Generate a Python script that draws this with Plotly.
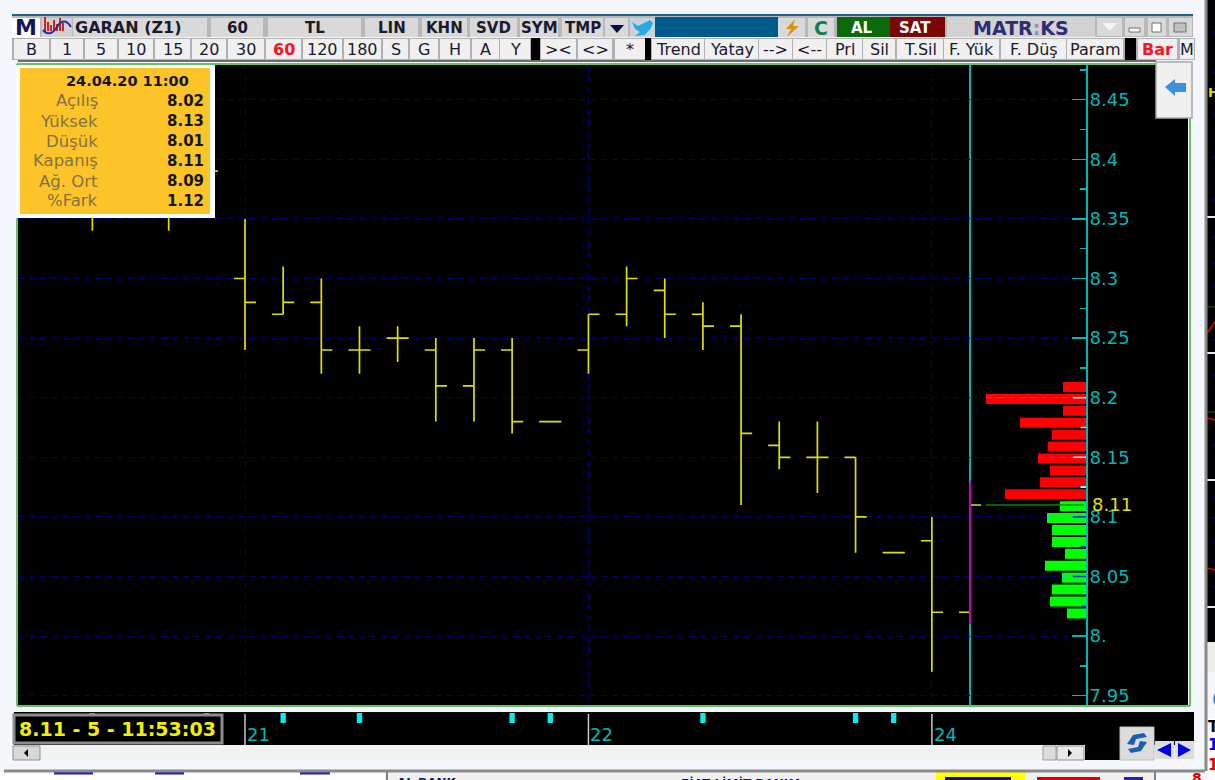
import plotly.graph_objects as go

W, H = 1215, 780

# ---------- data ----------
bar_index = [-4, -2, -1, 0, 1, 2, 3, 4, 5, 6, 7, 8, 9, 10, 11, 12, 13, 14, 15, 16, 17, 18, 19]
opens  = [8.37, 8.38, 8.40, 8.30, 8.27, 8.28, 8.24, 8.25, 8.24, 8.21, 8.24, 8.18, 8.24, 8.27, 8.29, 8.27, 8.26, 8.16, 8.15, 8.15, 8.07, 8.08, 8.02]
highs  = [8.41, 8.40, 8.41, 8.35, 8.31, 8.30, 8.26, 8.26, 8.25, 8.25, 8.25, 8.18, 8.27, 8.31, 8.30, 8.28, 8.27, 8.18, 8.18, 8.15, 8.07, 8.10, 8.13]
lows   = [8.34, 8.34, 8.38, 8.24, 8.27, 8.22, 8.22, 8.23, 8.18, 8.18, 8.17, 8.18, 8.22, 8.26, 8.25, 8.24, 8.11, 8.14, 8.12, 8.07, 8.07, 7.97, 8.01]
closes = [8.38, 8.37, 8.39, 8.28, 8.28, 8.24, 8.24, 8.25, 8.21, 8.24, 8.18, 8.18, 8.27, 8.30, 8.27, 8.26, 8.17, 8.15, 8.15, 8.10, 8.07, 8.02, 8.11]

red_levels = [8.21, 8.20, 8.19, 8.18, 8.17, 8.16, 8.15, 8.14, 8.13, 8.12]
red_volume = [23, 100, 23, 66, 34, 38, 48, 36, 46, 81]
green_levels = [8.11, 8.10, 8.09, 8.08, 8.07, 8.06, 8.05, 8.04, 8.03, 8.02]
green_volume = [26, 39, 34, 34, 21, 41, 24, 34, 36, 19]
last_price = 8.11
last_volume = 100

price_ticks = [7.95, 8.0, 8.05, 8.1, 8.15, 8.2, 8.25, 8.3, 8.35, 8.4, 8.45]
price_labels = ["7.95", "8.", "8.05", "8.1", "8.15", "8.2", "8.25", "8.3", "8.35", "8.4", "8.45"]
day_index = [0, 9, 18]
day_labels = ["21", "22", "24"]
session_marks = [-4, -1, 1, 3, 7, 8, 12, 16, 17]

info_labels = ["Açılış", "Yüksek", "Düşük", "Kapanış", "Ağ. Ort", "%Fark"]
info_values = ["8.02", "8.13", "8.01", "8.11", "8.09", "1.12"]

row1 = [("60", 211, 263), ("TL", 268, 361), ("LIN", 365, 418), ("KHN", 422, 467),
        ("SVD", 470, 517), ("SYM", 520, 558), ("TMP", 562, 603)]
row2 = [("B", 14, 49), ("1", 51, 83), ("5", 85, 117), ("10", 119, 153), ("15", 155, 190), ("20", 192, 226),
        ("30", 228, 264), ("60", 266, 301), ("120", 303, 342), ("180", 344, 381), ("S", 383, 408), ("G", 410, 438),
        ("H", 440, 470), ("A", 472, 499), ("Y", 500, 530), ("><", 541, 576), ("<>", 578, 612), ("*", 615, 645),
        ("Trend", 652, 704), ("Yatay", 705, 758), ("-->", 759, 792), ("<--", 793, 826), ("Prl", 827, 862),
        ("Sil", 863, 895), ("T.Sil", 897, 943), ("F. Yük", 944, 999), ("F. Düş", 1001, 1066),
        ("Param", 1067, 1123), ("Bar", 1138, 1177), ("M", 1180, 1194)]

# ---------- helpers ----------
FONT = "DejaVu Sans"
CY = "#00b8b8"
shapes, notes = [], []

def fx(x): return x / W
def fy(y): return 1 - y / H

def rect(x0, y0, x1, y1, color, line=None, lw=1, layer="above"):
    shapes.append(dict(type="rect", xref="paper", yref="paper", x0=fx(x0), x1=fx(x1), y0=fy(y0), y1=fy(y1),
                       fillcolor=color, line=dict(color=line or color, width=lw if line else 0), layer=layer))

def poly(points, color):
    d = "M " + " L ".join(f"{fx(a):.5f},{fy(b):.5f}" for a, b in points) + " Z"
    shapes.append(dict(type="path", xref="paper", yref="paper", path=d, fillcolor=color, line=dict(width=0), layer="above"))

def line(x0, y0, x1, y1, color, width=1):
    shapes.append(dict(type="line", xref="paper", yref="paper", x0=fx(x0), x1=fx(x1), y0=fy(y0), y1=fy(y1),
                       line=dict(color=color, width=width), layer="above"))

def text(x, y, s, size=14, color="#1a1a2a", bold=False, anchor="center", family=FONT):
    if bold:
        s = f"<b>{s}</b>"
    notes.append(dict(xref="paper", yref="paper", x=fx(x), y=fy(y), text=s, showarrow=False, xanchor=anchor,
                      yanchor="middle", font=dict(family=family, size=size, color=color), borderpad=0, borderwidth=0))

# ---------- window chrome ----------
rect(1207, 0, 1215, 700, "#000000")
for yy in [32, 73, 115, 157, 200, 237, 263, 287, 340, 375, 445, 497, 518, 542, 563, 587]:
    line(1211, yy, 1215, yy, "#0000b0", 1)
for yy in [217, 353, 480, 607]:
    line(1207, yy, 1215, yy, "#e8e8e8", 2)
line(1207, 307, 1215, 307, "#007000", 1)
line(1207, 412, 1215, 412, "#007000", 1)
line(1207, 333, 1215, 322, "#e00000", 1.5)
line(1207, 418, 1215, 420, "#e00000", 1.5)
line(1207, 568, 1215, 570, "#e00000", 1.5)
text(1213, 92, "H", 13, "#e0e000", True)
rect(1207, 642, 1215, 672, "#ececec")
rect(1207, 672, 1215, 718, "#f4f6fb")
text(1212, 699, "0", 20, "#2a80d0", False, "left")
rect(1207, 718, 1215, 736, "#ffffff")
text(1208, 727, "T", 15, "#000000", True, "left")
rect(1207, 736, 1215, 780, "#ffffff")
text(1208, 745, "1", 15, "#0000e0", True, "left")
text(1208, 765, "1", 15, "#e00000", True, "left")

rect(0, 772, 385, 780, "#ffffff")
rect(385, 772, 1155, 780, "#f0f0f0")
line(387, 772, 387, 780, "#808080", 2)
line(1155, 772, 1155, 780, "#808080", 2)
for a, b in [(54, 93), (155, 184), (300, 330)]:
    rect(a, 772, b, 774.5, "#2020c0")
text(397, 783, "AL BANK", 12, "#101070", True, "left")
text(681, 783, "FİAT LİMİT BANKA", 12, "#101070", True, "left")
rect(936, 772, 1025, 780, "#ffff00")
rect(945, 777, 1011, 780, "#101080")
rect(1037, 777, 1100, 780, "#e00000")
rect(1124, 777, 1143, 780, "#2020c0")
text(1197, 778, "8", 14, "#e00000", True)

line(4, 771, 1205, 771, "#8a8a8a", 3)
line(1206, 0, 1206, 771, "#8a8a8a", 3)

# plot frame (plot's extra black area right of price axis)
rect(1086, 65, 1188, 705, "#000000", layer="below")
line(18, 61, 1156, 61, "#404040", 1.5)
line(17, 64, 1190, 64, "#62c462", 2)
line(17, 706, 1190, 706, "#62c462", 2)
line(17, 64, 17, 706, "#62c462", 2)
line(1190, 64, 1190, 706, "#62c462", 2)

# top strip
rect(12, 14, 1193, 37, "#b8b8b8")
line(12, 15, 1193, 15, "#1f5f8f", 2)
rect(655, 17, 778, 37, "#005a8c")
rect(12, 18, 40, 37, "#ffffff")
text(26, 28, "M", 22, "#14145a", True)
rect(42, 18, 72, 37, "#d2d2d2")
for k, (bx, bh) in enumerate(zip([45, 48, 51, 54, 57, 60, 63], [14, 9, 6, 11, 7, 13, 8])):
    line(bx, 31, bx, 31 - bh, "#d02020", 2)
shapes.append(dict(type="path", xref="paper", yref="paper",
                   path=f"M {fx(43)},{fy(30)} Q {fx(50)},{fy(38)} {fx(57)},{fy(27)} T {fx(71)},{fy(27)}",
                   line=dict(color="#2030a0", width=2), layer="above"))
rect(73, 18, 207, 37, "#d9d9d9")
text(75, 28, "GARAN (Z1)", 16, "#1a1a2e", True, "left")
for s, a, b in row1:
    rect(a, 18, b, 37, "#d9d9d9")
    text((a + b) / 2, 28, s, 15, "#1a1a2e", True)
rect(605, 18, 628, 37, "#d9d9d9")
poly([(610, 25), (624, 25), (617, 33)], "#0a0a50")
rect(630, 18, 655, 37, "#c8d4dc")
poly([(632, 22), (638, 26), (644, 23), (650, 20), (653, 23), (651, 28), (645, 35), (635, 36), (640, 32), (635, 29)], "#2aa8e0")
rect(778, 18, 805, 37, "#d9d9d9")
poly([(795, 19), (786, 29), (791, 29), (787, 37), (799, 26), (793, 26)], "#e09010")
rect(808, 18, 834, 37, "#d9d9d9")
text(821, 28, "C", 19, "#108050", True)
rect(837, 17, 890, 37, "#0a6a0a")
text(862, 28, "AL", 15, "#ffffff", True)
rect(890, 17, 945, 37, "#7a0606")
text(915, 28, "SAT", 15, "#ffffff", True)
rect(947, 17, 1095, 37, "#d2d2d2")
text(1021, 28, 'MATR<span style="color:#9090c0">:</span>KS', 19, "#2c2c78", True)
for a, b in [(1097, 1122), (1125, 1144), (1148, 1166), (1169, 1192)]:
    rect(a, 18, b, 36, "#d9d9d9")
poly([(1102, 23), (1117, 23), (1110, 31)], "#f4f4f4")
rect(1129, 28, 1140, 32, "#ffffff", "#707070", 1)
rect(1152, 23, 1161, 32, "#ffffff", "#707070", 1)
rect(1174, 23, 1186, 32, "#c0c0c0", "#707070", 1)

# second row
rect(12, 38, 1195, 60, "#b0b0b0")
rect(531, 38, 540, 60, "#000000")
rect(645, 38, 651, 60, "#000000")
rect(1125, 38, 1136, 60, "#000000")
for s, a, b in row2:
    rect(a, 39, b, 59, "#f0f0f0")
    col = "#ff1020" if s in ("Bar", "60") else "#1a1a2e"
    text((a + b) / 2, 50, s, 16, col, s in ("60", "Bar"))

# arrow button
rect(1156, 62, 1192, 118, "#f0f0f0", "#a8a8a8", 1.5)
poly([(1165, 87), (1175, 79), (1175, 83), (1186, 83), (1186, 92), (1175, 92), (1175, 96)], "#3c90e0")

# tooltip
rect(16, 65, 215, 218, "#ffffff")
rect(20, 68, 210, 214, "#fcc428")
text(127, 81, "24.04.20 11:00", 14.5, "#161616", True)
for k, (lab, val) in enumerate(zip(info_labels, info_values)):
    yy = 101 + 20 * k
    text(98, yy, lab, 16.5, "#857040", False, "right")
    text(204, yy, val, 15, "#161616", True, "right")

# bottom strip
rect(14, 712, 1194, 745, "#000000")
for m in session_marks:
    shapes.append(dict(type="rect", xref="x", yref="paper", x0=m - 0.07, x1=m + 0.07, y0=fy(723), y1=fy(713),
                       fillcolor="#00f0f0", line=dict(width=0), layer="above"))
for d, lab in zip(day_index, day_labels):
    shapes.append(dict(type="line", xref="x", yref="paper", x0=d, x1=d, y0=fy(745), y1=fy(714),
                       line=dict(color="#c8c8c8", width=1.5), layer="above"))
    notes.append(dict(xref="x", yref="paper", x=d, y=fy(734), text=lab, showarrow=False, xanchor="left", xshift=0,
                      yanchor="middle", font=dict(family=FONT, size=18, color=CY)))
rect(14, 715, 222, 743, "#000000", "#8c8c8c", 3)
text(118, 729, "8.11 - 5 - 11:53:03", 19, "#f0f000", True)

# scrollbar row
rect(12, 745, 1120, 760, "#f2f2f2")
rect(13, 746, 40, 760, "#d8d8d8", "#909090", 1)
poly([(24, 753), (28, 749), (28, 757)], "#000000")
rect(1043, 746, 1056, 760, "#dcdcdc", "#a0a0a0", 1)
rect(1057, 746, 1084, 760, "#e8e8e8", "#909090", 1)
poly([(1072, 753), (1068, 749), (1068, 757)], "#000000")
rect(1085, 745, 1120, 760, "#000000")
rect(1120, 727, 1154, 760, "#dcdcdc", "#c0c0c0", 1)
poly([(1127, 744), (1133, 735), (1144, 733), (1147, 737), (1136, 739), (1134, 745)], "#1a5fb0")
poly([(1147, 742), (1141, 751), (1131, 753), (1128, 749), (1138, 747), (1140, 741)], "#1a5fb0")
rect(1155, 741, 1174, 759, "#dcdcdc")
poly([(1157, 750), (1171, 743), (1171, 757)], "#0000e0")
rect(1175, 741, 1194, 759, "#dcdcdc")
poly([(1191, 750), (1178, 743), (1178, 757)], "#0000e0")

# ---------- traces on real axes ----------
XDOM = [18 / W, 1086 / W]
YDOM = [1 - 705 / H, 1 - 65 / H]
STEP = 38.16
X_RANGE = [-(245 - 18) / STEP, (1086 - 245) / STEP]
PX_PER_UNIT = 1192.0
Y_RANGE = [8.45 - (705 - 99.7) / PX_PER_UNIT, 8.45 + (99.7 - 65) / PX_PER_UNIT]

BAR = "#e0e000"
fig = go.Figure()
fig.add_trace(go.Ohlc(x=bar_index, open=opens, high=highs, low=lows, close=closes, tickwidth=0.29,
                      increasing=dict(line=dict(color=BAR, width=1.7)),
                      decreasing=dict(line=dict(color=BAR, width=1.7)), hoverinfo="skip", showlegend=False))
fig.add_trace(go.Scatter(x=[bar_index[-1], bar_index[-1]], y=[lows[-1], highs[-1]], mode="lines",
                         line=dict(color="#c000b0", width=2), hoverinfo="skip", showlegend=False))
for lv, vol, col in [(red_levels, red_volume, "#ff0000"), (green_levels, green_volume, "#00ff00")]:
    fig.add_trace(go.Bar(y=lv, x=vol, orientation="h", width=0.0084, offset=-0.0052, xaxis="x2", yaxis="y",
                         marker=dict(color=col, line=dict(width=0)), hoverinfo="skip", showlegend=False))
fig.add_trace(go.Scatter(x=[2, last_volume], y=[last_price, last_price], mode="lines", xaxis="x2", yaxis="y",
                         line=dict(color="#008a00", width=1.5), hoverinfo="skip", showlegend=False))

# cursor line
shapes.insert(0, dict(type="line", xref="x", yref="y domain", x0=19, x1=19, y0=0, y1=1,
                      line=dict(color=CY, width=2), layer="below"))

# price-axis ticks re-drawn over the volume bars, and grid dashes seen through them
def tick_over(p, frac, color):
    shapes.append(dict(type="line", xref="x domain", yref="y", x0=1 - frac / 1068, x1=1, y0=p, y1=p,
                       line=dict(color=color, width=1.5), layer="above"))
for p in [8.2, 8.15]:
    tick_over(p, 13, "#f4f4f4")
for p in [8.175, 8.125]:
    tick_over(p, 5, "#f4f4f4")
for p in [8.1, 8.05]:
    tick_over(p, 13, "#1030d0")
for p in [8.075, 8.025]:
    tick_over(p, 5, "#1030d0")
for p, vol, col in [(8.2, red_volume[1], "#e0208a"), (8.15, red_volume[6], "#e0208a"),
                    (8.1, green_volume[1], "#20d0a0"), (8.05, green_volume[6], "#20d0a0")]:
    shapes.append(dict(type="line", xref="x2", yref="y", x0=vol, x1=14, y0=p, y1=p,
                       line=dict(color=col, width=1, dash="6px,5px"), layer="above"))

notes.append(dict(xref="paper", yref="y", x=fx(1090), y=last_price, text="8.11", showarrow=False, xanchor="left",
                  yanchor="middle", font=dict(family=FONT, size=18, color="#e0e000")))

GRID = "#00007a"
fig.update_layout(
    width=W, height=H, margin=dict(l=0, r=0, t=0, b=0, pad=0), autosize=False,
    paper_bgcolor="#f3f6fb", plot_bgcolor="#000000", showlegend=False, barmode="overlay",
    xaxis=dict(domain=XDOM, range=X_RANGE, tickmode="array", tickvals=day_index, ticktext=day_labels,
               showticklabels=False, ticks="", showgrid=True, gridcolor=GRID, griddash="6px,5px", gridwidth=1,
               zeroline=False, showline=False, rangeslider=dict(visible=False), fixedrange=True, anchor="y"),
    xaxis2=dict(domain=XDOM, range=[1068, 0], overlaying="x", visible=False, anchor="y", fixedrange=True),
    yaxis=dict(domain=YDOM, range=Y_RANGE, side="right", anchor="x", tickmode="array", tickvals=price_ticks,
               ticktext=price_labels, ticks="inside", ticklen=14, tickwidth=1.5, tickcolor=CY,
               tickfont=dict(family=FONT, size=18, color=CY), showline=True, linecolor=CY, linewidth=2,
               showgrid=True, gridcolor=GRID, griddash="6px,5px", gridwidth=1, zeroline=False, fixedrange=True,
               ticklabelstandoff=-2,
               minor=dict(tickmode="linear", tick0=7.975, dtick=0.05, ticks="inside", ticklen=6, tickcolor=CY,
                          tickwidth=1.5, showgrid=False)),
    shapes=shapes, annotations=notes, hovermode=False, dragmode=False,
)
fig.write_html("out.html", config=dict(displayModeBar=False, staticPlot=True),
               post_script="document.body.style.margin='0';")
